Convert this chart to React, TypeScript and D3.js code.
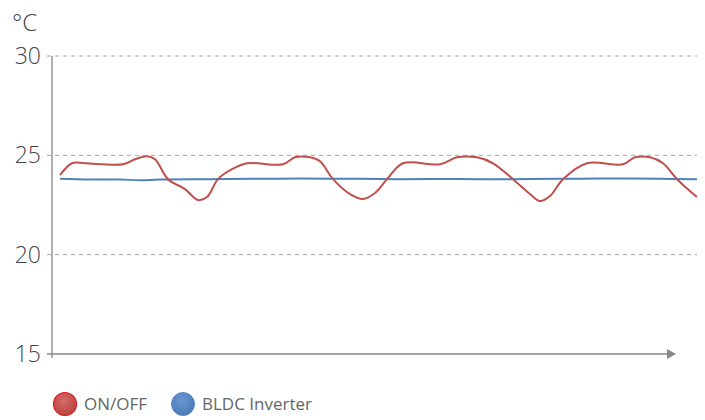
import React from "react";
import * as d3 from "d3";

const yTicks = [15, 20, 25, 30];
const seriesNames = ["ON/OFF", "BLDC Inverter"];
const seriesColors = ["#c0504d", "#4f81bd"];

const onOffTime = [0, 12, 25, 63, 75, 87, 95, 108, 125, 138, 147, 158, 172, 187, 223, 235, 250, 260, 273, 290, 303, 315, 327, 343, 380, 397, 417, 433, 453, 470, 480, 490, 503, 527, 563, 575, 590, 603, 617, 637];
const onOffTemp = [24.0, 24.6, 24.6, 24.55, 24.8, 24.95, 24.8, 23.8, 23.3, 22.75, 22.9, 23.8, 24.3, 24.6, 24.55, 24.9, 24.9, 24.7, 23.8, 23.05, 22.8, 23.1, 23.8, 24.6, 24.55, 24.9, 24.9, 24.6, 23.8, 23.05, 22.7, 22.95, 23.8, 24.6, 24.55, 24.9, 24.9, 24.6, 23.8, 22.9];

const inverterTime = [0, 30, 60, 80, 100, 150, 200, 240, 300, 340, 400, 440, 500, 540, 600, 637];
const inverterTemp = [23.82, 23.78, 23.78, 23.75, 23.78, 23.8, 23.82, 23.83, 23.82, 23.8, 23.81, 23.79, 23.82, 23.83, 23.82, 23.8];

export default function App() {
  const W = 705, H = 420;
  const x = d3.scaleLinear().domain([0, 637]).range([60, 697]);
  const y = d3.scaleLinear().domain([15, 30]).range([354, 56]);
  const line = d3
    .line<[number, number]>()
    .x((d) => x(d[0]))
    .y((d) => y(d[1]))
    .curve(d3.curveCatmullRom.alpha(0.5));
  const red = line(onOffTime.map((t, i) => [t, onOffTemp[i]]) as [number, number][]) || "";
  const blue = line(inverterTime.map((t, i) => [t, inverterTemp[i]]) as [number, number][]) || "";
  const font = "'Open Sans', 'DejaVu Sans', sans-serif";
  return (
    <svg width={W} height={H} style={{ position: "absolute", left: 0, top: 0, background: "#fff" }}>
      <defs>
        <radialGradient id="gr" cx="45%" cy="35%" r="70%">
          <stop offset="0%" stopColor="#d46a67" />
          <stop offset="100%" stopColor="#b8423f" />
        </radialGradient>
        <radialGradient id="gb" cx="45%" cy="35%" r="70%">
          <stop offset="0%" stopColor="#6b98d0" />
          <stop offset="100%" stopColor="#4676b4" />
        </radialGradient>
      </defs>
      <text x={12} y={31} fontFamily={font} fontWeight={300} fontSize={24} fill="#444">°C</text>
      {yTicks.map((t) => (
        <g key={t}>
          <text x={41} y={y(t) + 8} textAnchor="end" fontFamily={font} fontWeight={300} fontSize={23} fill="#444">
            {t}
          </text>
          {t !== 15 && (
            <line x1={47} x2={697} y1={y(t)} y2={y(t)} stroke="#a6a6a6" strokeWidth={1} strokeDasharray="4,4" />
          )}
        </g>
      ))}
      <line x1={52} x2={52} y1={y(30)} y2={358} stroke="#b0b0b0" strokeWidth={2} />
      <line x1={47} x2={668} y1={y(15)} y2={y(15)} stroke="#888" strokeWidth={1.5} />
      <polygon points={`667,${y(15) - 5} 676,${y(15)} 667,${y(15) + 5}`} fill="#888" />
      <path d={blue} fill="none" stroke={seriesColors[1]} strokeWidth={2} />
      <path d={red} fill="none" stroke={seriesColors[0]} strokeWidth={2} />
      <circle cx={65} cy={404} r={11.5} fill="url(#gr)" stroke="#e8161a" strokeWidth={1.2} />
      <text x={84} y={410} fontFamily={font} fontSize={17} fill="#666">{seriesNames[0]}</text>
      <circle cx={183} cy={404} r={11.5} fill="url(#gb)" stroke="#5a8ac4" strokeWidth={1} />
      <text x={202} y={410} fontFamily={font} fontSize={17} fill="#666">{seriesNames[1]}</text>
    </svg>
  );
}
